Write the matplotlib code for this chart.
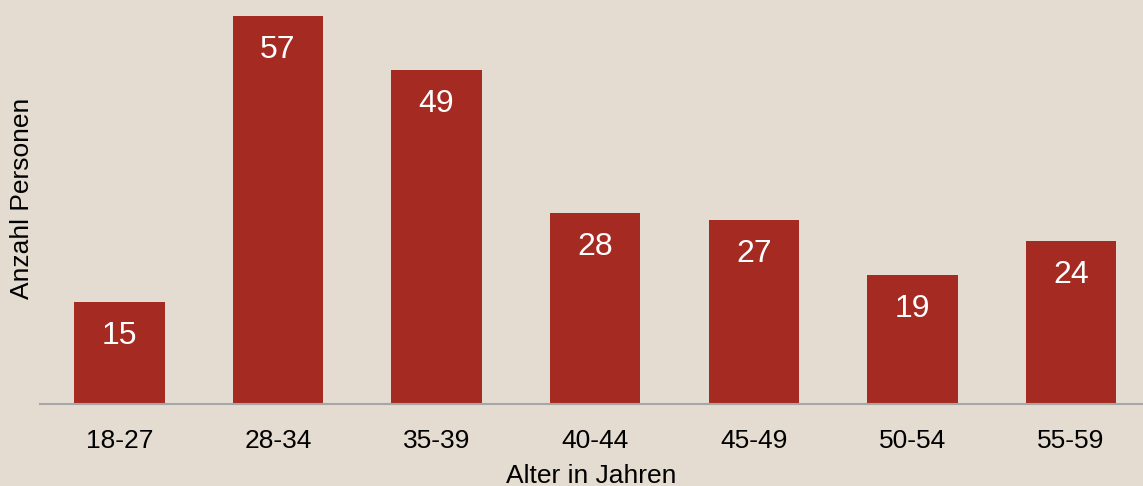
import numpy as np
import matplotlib.pyplot as plt

plt.rcParams['font.family'] = ['Liberation Sans', 'DejaVu Sans']

# Data
age_groups = ['18-27', '28-34', '35-39', '40-44', '45-49', '50-54', '55-59']
counts = [15, 57, 49, 28, 27, 19, 24]

bg = '#E4DCD1'
bar_color = '#A52A21'

fig = plt.figure(figsize=(11.43, 4.86), dpi=100, facecolor=bg)
ax = fig.add_axes([40 / 1143, 82 / 486, 1 - 40 / 1143, 404 / 486], facecolor=bg)

x = np.arange(len(age_groups))
bars = ax.bar(x, counts, width=0.57, color=bar_color, zorder=2)

for b, v in zip(bars, counts):
    ax.annotate(str(v), (b.get_x() + b.get_width() / 2, v),
                xytext=(0, -24.5), textcoords='offset points',
                ha='center', va='center', color='white', fontsize=23)

ax.set_xlim(-0.5, 6.454)
ax.set_ylim(0, 59.35)
ax.set_xticks(x)
ax.set_xticklabels(age_groups, fontsize=19)
ax.tick_params(axis='x', length=0, pad=18)
ax.set_yticks([])

for s in ['top', 'right', 'left']:
    ax.spines[s].set_visible(False)
ax.spines['bottom'].set_color('#A6A6A6')
ax.spines['bottom'].set_linewidth(1.5)

ax.set_xlabel('Alter in Jahren', fontsize=19, labelpad=8)
fig.text(22 / 1143, 1 - 198 / 486, 'Anzahl Personen', rotation=90,
         ha='center', va='center', fontsize=19)

fig.savefig('out.png', dpi=100, facecolor=bg)
